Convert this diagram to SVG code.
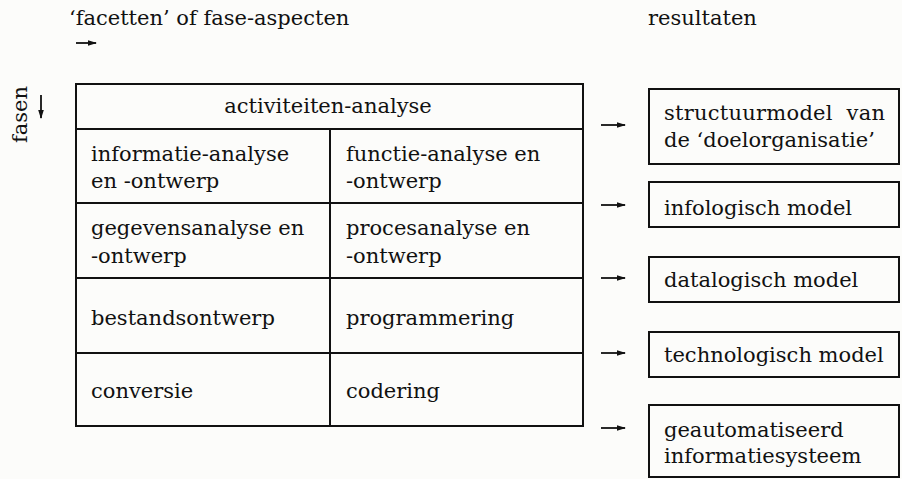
<svg xmlns="http://www.w3.org/2000/svg" width="902" height="479" viewBox="0 0 902 479">
  <style>
    text { font-family: "DejaVu Serif", "Liberation Serif", serif; font-size: 21px; fill: #111; }
    .box { fill: none; stroke: #111; stroke-width: 2; }
    .ln { stroke: #111; stroke-width: 2; fill: none; }
    .arr { stroke: #111; stroke-width: 1.8; fill: none; marker-end: url(#head); }
  </style>
  <defs>
    <marker id="head" markerWidth="9" markerHeight="8" refX="8" refY="4" orient="auto" markerUnits="userSpaceOnUse">
      <path d="M0,1.2 L9,4 L0,6.8 Z" fill="#111"/>
    </marker>
  </defs>
  <rect width="902" height="479" fill="#fcfcfa"/>

  <!-- axis labels -->
  <g id="axis-labels">
    <text x="69" y="25">‘facetten’ of fase-aspecten</text>
    <text x="648" y="25">resultaten</text>
    <text transform="translate(27,143) rotate(-90)">fasen</text>
  </g>

  <!-- activity table -->
  <g id="table">
    <rect class="box" x="76" y="84" width="507" height="342"/>
    <line class="ln" x1="76" y1="129" x2="583" y2="129"/>
    <line class="ln" x1="76" y1="203" x2="583" y2="203"/>
    <line class="ln" x1="76" y1="278" x2="583" y2="278"/>
    <line class="ln" x1="76" y1="353" x2="583" y2="353"/>
    <line class="ln" x1="330" y1="129" x2="330" y2="426"/>
  </g>
  <g id="row-activiteiten">
    <text x="328" y="113" text-anchor="middle">activiteiten-analyse</text>
  </g>
  <g id="cell-informatie">
    <text x="91" y="161">informatie-analyse</text>
    <text x="91" y="188">en -ontwerp</text>
  </g>
  <g id="cell-functie">
    <text x="346" y="161">functie-analyse en</text>
    <text x="346" y="188">-ontwerp</text>
  </g>
  <g id="cell-gegevens">
    <text x="91" y="235">gegevensanalyse en</text>
    <text x="91" y="263">-ontwerp</text>
  </g>
  <g id="cell-proces">
    <text x="346" y="235">procesanalyse en</text>
    <text x="346" y="263">-ontwerp</text>
  </g>
  <g id="cell-bestand">
    <text x="91" y="325">bestandsontwerp</text>
  </g>
  <g id="cell-programmering">
    <text x="346" y="325">programmering</text>
  </g>
  <g id="cell-conversie">
    <text x="91" y="398">conversie</text>
  </g>
  <g id="cell-codering">
    <text x="346" y="398">codering</text>
  </g>

  <!-- result boxes -->
  <g id="res-structuurmodel">
    <rect class="box" x="649" y="89" width="250" height="75"/>
    <text x="664" y="120" textLength="221" lengthAdjust="spacing" xml:space="preserve">structuurmodel  van</text>
    <text x="664" y="147">de ‘doelorganisatie’</text>
  </g>
  <g id="res-infologisch">
    <rect class="box" x="649" y="182" width="250" height="45"/>
    <text x="664" y="215">infologisch model</text>
  </g>
  <g id="res-datalogisch">
    <rect class="box" x="649" y="257" width="250" height="45"/>
    <text x="664" y="287">datalogisch model</text>
  </g>
  <g id="res-technologisch">
    <rect class="box" x="649" y="332" width="250" height="45"/>
    <text x="664" y="362">technologisch model</text>
  </g>
  <g id="res-geautomatiseerd">
    <rect class="box" x="649" y="405" width="250" height="72"/>
    <text x="664" y="437">geautomatiseerd</text>
    <text x="664" y="463">informatiesysteem</text>
  </g>

  <!-- connectors -->
  <g id="connectors">
    <line class="arr" x1="76" y1="43" x2="96" y2="43"/>
    <line class="arr" x1="41" y1="95" x2="41" y2="118"/>
    <line class="arr" x1="601" y1="125" x2="625" y2="125"/>
    <line class="arr" x1="601" y1="205" x2="625" y2="205"/>
    <line class="arr" x1="601" y1="278" x2="625" y2="278"/>
    <line class="arr" x1="601" y1="353" x2="625" y2="353"/>
    <line class="arr" x1="601" y1="428" x2="625" y2="428"/>
  </g>
</svg>
